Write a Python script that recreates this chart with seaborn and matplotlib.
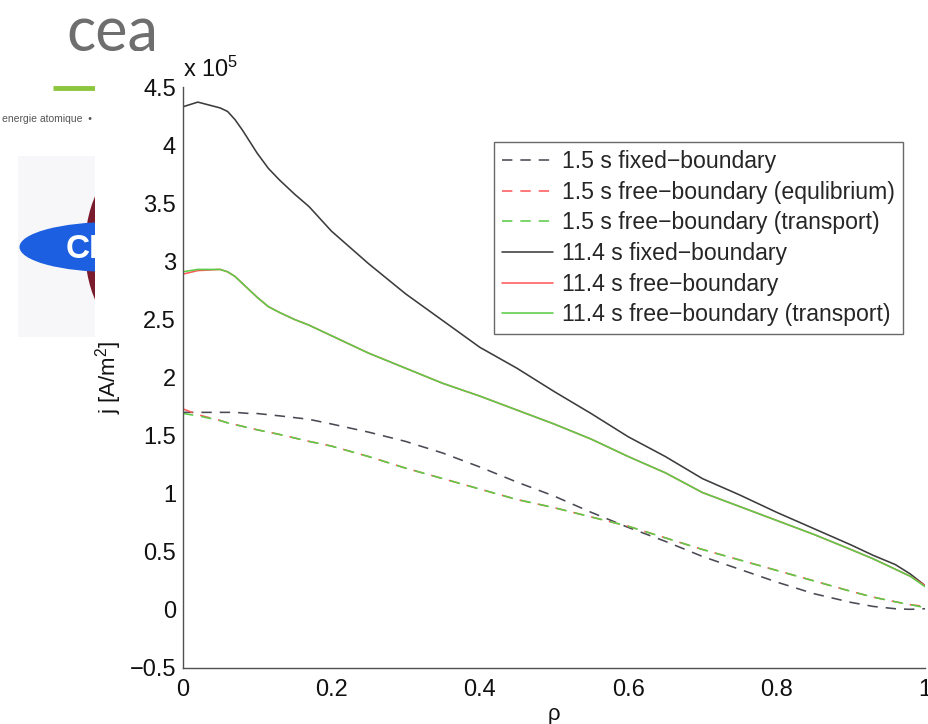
import numpy as np
import pandas as pd
import matplotlib
matplotlib.use("Agg")
import matplotlib.pyplot as plt
from matplotlib.patches import Ellipse, Rectangle
import seaborn as sns

# ---------------- data (j in units of 1e5 A/m^2) ----------------
rho = [0, 0.02, 0.05, 0.06, 0.07, 0.08, 0.09, 0.1, 0.115, 0.13, 0.15, 0.17, 0.2, 0.25,
       0.3, 0.35, 0.4, 0.45, 0.5, 0.55, 0.6, 0.65, 0.7, 0.75, 0.8, 0.85, 0.9, 0.93,
       0.96, 0.98, 1.0]

j_15_fixed = [1.70, 1.70, 1.70, 1.70, 1.70, 1.695, 1.69, 1.69, 1.68, 1.67, 1.655, 1.64,
              1.60, 1.53, 1.45, 1.35, 1.23, 1.10, 0.98, 0.84, 0.71, 0.59, 0.46, 0.35,
              0.24, 0.14, 0.065, 0.03, 0.01, 0.005, 0.01]
j_15_free_eq = [1.73, 1.68, 1.63, 1.61, 1.595, 1.58, 1.565, 1.55, 1.53, 1.51, 1.48, 1.45,
                1.41, 1.32, 1.22, 1.13, 1.04, 0.95, 0.88, 0.80, 0.72, 0.62, 0.52, 0.43,
                0.34, 0.25, 0.16, 0.11, 0.07, 0.045, 0.03]
j_15_free_tr = [1.69, 1.67, 1.63, 1.61, 1.595, 1.58, 1.565, 1.55, 1.53, 1.51, 1.48, 1.45,
                1.41, 1.32, 1.22, 1.13, 1.04, 0.95, 0.88, 0.80, 0.72, 0.62, 0.52, 0.43,
                0.34, 0.25, 0.16, 0.11, 0.07, 0.045, 0.02]
j_114_fixed = [4.33, 4.37, 4.32, 4.29, 4.22, 4.13, 4.03, 3.93, 3.80, 3.70, 3.58, 3.47,
               3.26, 2.98, 2.72, 2.49, 2.26, 2.08, 1.88, 1.69, 1.49, 1.32, 1.13, 0.99,
               0.84, 0.70, 0.56, 0.47, 0.39, 0.31, 0.21]
j_114_free = [2.89, 2.92, 2.93, 2.91, 2.87, 2.81, 2.75, 2.69, 2.61, 2.56, 2.50, 2.45,
              2.36, 2.21, 2.08, 1.95, 1.84, 1.72, 1.60, 1.47, 1.32, 1.18, 1.01, 0.89,
              0.77, 0.65, 0.52, 0.44, 0.35, 0.29, 0.21]
j_114_free_tr = [2.91, 2.93, 2.93, 2.91, 2.87, 2.81, 2.75, 2.69, 2.61, 2.56, 2.50, 2.45,
                 2.36, 2.21, 2.08, 1.95, 1.84, 1.72, 1.60, 1.47, 1.32, 1.18, 1.01, 0.89,
                 0.77, 0.65, 0.52, 0.44, 0.35, 0.29, 0.20]

labels = ["1.5 s fixed\u2212boundary",
          "1.5 s free\u2212boundary (equlibrium)",
          "1.5 s free\u2212boundary (transport)",
          "11.4 s fixed\u2212boundary",
          "11.4 s free\u2212boundary",
          "11.4 s free\u2212boundary (transport)"]
series = [j_15_fixed, j_15_free_eq, j_15_free_tr, j_114_fixed, j_114_free, j_114_free_tr]
colors = ["#4a4a55", "#ff5a5a", "#5ccc48", "#3c3c3c", "#ff5a5a", "#5ccc48"]
styles = ["--", "--", "--", "-", "-", "-"]

xticks = [0, 0.2, 0.4, 0.6, 0.8, 1]
yticks = [-0.5, 0, 0.5, 1, 1.5, 2, 2.5, 3, 3.5, 4, 4.5]

# ---------------- style ----------------
sns.set_theme(style="white")
plt.rcParams["font.family"] = ["Liberation Sans", "DejaVu Sans"]
plt.rcParams["mathtext.fontset"] = "custom"
plt.rcParams["mathtext.rm"] = "Liberation Sans"
plt.rcParams["mathtext.it"] = "Liberation Sans:italic"

W, H = 929, 724
fig = plt.figure(figsize=(W / 100, H / 100), dpi=100)

# ---------------- background logo (decoration) ----------------
bg = fig.add_axes([0, 0, 1, 1], zorder=-5)
bg.set_xlim(0, W)
bg.set_ylim(H, 0)
bg.axis("off")
bg.text(112, 52, "cea", fontsize=44, color="#6e6e6e", ha="center", va="baseline",
        family=["Lato", "Liberation Sans"], fontweight="normal")
bg.plot([53, 95], [88, 88], color="#8cc63f", lw=3.5, solid_capstyle="butt")
bg.text(2, 119, "energie atomique  \u2022  energies alternatives", fontsize=7.5,
        color="#555555", ha="left", va="center")
bg.add_patch(Rectangle((18, 156), 90, 181, color="#f7f7f9", lw=0))
bg.add_patch(Ellipse((135, 248), 100, 172, color="#7a1c2e", lw=0))
bg.add_patch(Ellipse((112, 247), 185, 50, color="#1c5fe0", lw=0))
bg.text(66, 249, "CEA", fontsize=24, color="white", fontweight="bold",
        family=["Liberation Sans Narrow", "Liberation Sans"], ha="left", va="center")
bg.add_patch(Rectangle((95, 51), W - 95, H - 51, color="white", lw=0, zorder=10))

# ---------------- main axes ----------------
ax = fig.add_axes([183 / W, (H - 668) / H, (925 - 183) / W, (668 - 87) / H])
ax.patch.set_alpha(0)

for y, lab, c, ls in zip(series, labels, colors, styles):
    if ls == "--":
        sns.lineplot(x=rho, y=y, ax=ax, color=c, lw=1.15, label=lab,
                     linestyle=(0, (6.5, 5)))
    else:
        sns.lineplot(x=rho, y=y, ax=ax, color=c, lw=1.15, label=lab)

ax.set_xlim(0, 1)
ax.set_ylim(-0.5, 4.5)
ax.set_xticks(xticks)
ax.set_xticklabels([f"{v:g}" for v in xticks])
ax.set_yticks(yticks)
ax.set_yticklabels([f"{v:g}".replace("-", "\u2212") for v in yticks])
sns.despine(ax=ax)
for s in ["left", "bottom"]:
    ax.spines[s].set_color("#505050")
    ax.spines[s].set_linewidth(1.0)
ax.tick_params(direction="in", length=5, width=0.9, color="#505050",
               labelsize=17, labelcolor="#111111", pad=5)
ax.tick_params(axis="x", pad=8)

ax.set_xlabel("\u03c1", fontsize=16, color="#111111", labelpad=2)
ax.set_ylabel(r"j [A/m$^2$]", fontsize=16, color="#111111", labelpad=4)
ax.text(0.0, 1.017, r"x 10$^5$", transform=ax.transAxes, ha="left", va="baseline",
        fontsize=17, color="#111111")

leg = ax.legend(loc="upper left", bbox_to_anchor=(0.419, 0.905), fontsize=16.6,
                frameon=True, fancybox=False, handlelength=2.2, handletextpad=0.4,
                labelspacing=0.33, borderpad=0.35, borderaxespad=0)
leg.get_frame().set_edgecolor("#444444")
leg.get_frame().set_linewidth(1.0)

fig.savefig("out.png", dpi=100)
